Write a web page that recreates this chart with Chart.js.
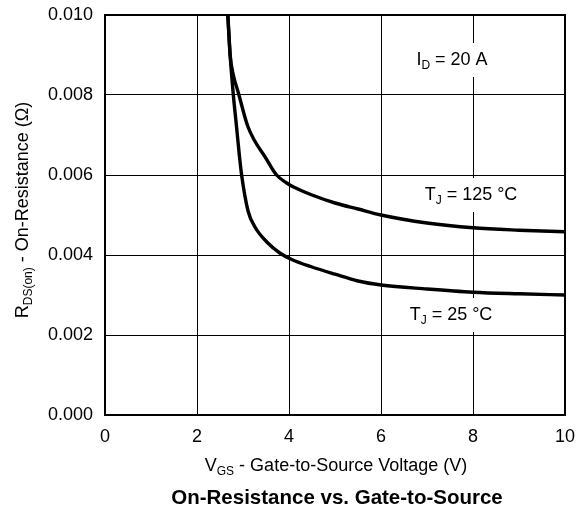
<!DOCTYPE html>
<html>
<head>
<meta charset="utf-8">
<script src="https://cdn.jsdelivr.net/npm/chart.js@4.4.0/dist/chart.umd.min.js"></script>
<style>
  html, body { margin: 0; padding: 0; background: #fff; }
  #wrap { width: 587px; height: 521px; }
</style>
</head>
<body>
<div id="wrap"><canvas id="chart" width="587" height="521"></canvas></div>
<script>
// V_GS (V) and R_DS(on) (ohm)
const vgs25 = [2.67, 2.72, 2.79, 2.86, 2.92, 2.97, 3.11, 3.26, 3.54, 3.80, 4.07, 4.50, 5.00, 5.50, 6.00, 7.00, 8.00, 9.00, 10.0];
const rds25 = [0.0100, 0.0090, 0.0080, 0.0072, 0.0065, 0.0060, 0.0051, 0.0047, 0.0043, 0.00405, 0.00388, 0.0037, 0.00352, 0.00335, 0.00325, 0.00315, 0.00307, 0.00303, 0.0030];
const vgs125 = [2.67, 2.72, 2.79, 2.90, 3.11, 3.52, 3.73, 3.95, 4.10, 4.50, 5.00, 5.50, 6.00, 7.00, 8.00, 9.00, 10.0];
const rds125 = [0.0100, 0.0090, 0.0085, 0.00805, 0.0072, 0.00638, 0.0060, 0.0058, 0.0057, 0.0055, 0.0053, 0.00515, 0.0050, 0.0048, 0.00468, 0.00462, 0.00458];

const xTicks = [0, 2, 4, 6, 8, 10];
const yTicks = [0, 0.002, 0.004, 0.006, 0.008, 0.010];

const FONT = '"Liberation Sans", Arial, Helvetica, sans-serif';
const FS = 18;

const toPts = (xs, ys) => xs.map((x, i) => ({ x, y: ys[i] }));

// text made of [text, isSub] parts
function partsWidth(ctx, parts, size) {
  let w = 0;
  parts.forEach(p => {
    ctx.font = (p[1] ? Math.round(size * 0.66) : size) + 'px ' + FONT;
    w += ctx.measureText(p[0]).width;
  });
  return w;
}
function drawParts(ctx, parts, x, y, size) {
  const w = partsWidth(ctx, parts, size);
  let cx = x - w / 2;
  ctx.textBaseline = 'middle';
  ctx.textAlign = 'left';
  parts.forEach(p => {
    ctx.font = (p[1] ? Math.round(size * 0.66) : size) + 'px ' + FONT;
    ctx.fillText(p[0], cx, p[1] ? y + size * 0.3 : y);
    cx += ctx.measureText(p[0]).width;
  });
}

const annotations = [
  { parts: [['I', 0], ['D', 1], [' = 20 A', 0]], x: 452, y: 60 },
  { parts: [['T', 0], ['J', 1], [' = 125 °C', 0]], x: 471, y: 195 },
  { parts: [['T', 0], ['J', 1], [' = 25 °C', 0]], x: 451, y: 315 }
];

const decor = {
  id: 'decor',
  afterDatasetsDraw(chart) {
    const ctx = chart.ctx;
    const a = chart.chartArea;
    ctx.save();
    // labels sit on a white box that breaks the grid
    annotations.forEach(t => {
      const w = partsWidth(ctx, t.parts, FS);
      ctx.fillStyle = '#fff';
      ctx.fillRect(t.x - w / 2 - 3, t.y - 17, w + 6, 34);
      ctx.fillStyle = '#000';
      drawParts(ctx, t.parts, t.x, t.y, FS);
    });
    // frame
    ctx.strokeStyle = '#000';
    ctx.lineWidth = 2;
    ctx.strokeRect(a.left, a.top, a.right - a.left, a.bottom - a.top);
    ctx.restore();
  },
  afterDraw(chart) {
    const ctx = chart.ctx;
    ctx.save();
    ctx.fillStyle = '#000';
    drawParts(ctx, [['V', 0], ['GS', 1], [' - Gate-to-Source Voltage (V)', 0]], 336, 466, FS);
    ctx.translate(23, 210);
    ctx.rotate(-Math.PI / 2);
    drawParts(ctx, [['R', 0], ['DS(on)', 1], [' - On-Resistance (\u03A9)', 0]], 0, 0, FS);
    ctx.restore();
    ctx.save();
    ctx.fillStyle = '#000';
    ctx.font = 'bold 20.5px ' + FONT;
    ctx.textAlign = 'center';
    ctx.textBaseline = 'middle';
    ctx.fillText('On-Resistance vs. Gate-to-Source', 337, 498);
    ctx.restore();
  }
};

const lineStyle = { borderColor: '#000', borderWidth: 3.4, pointRadius: 0, showLine: true, cubicInterpolationMode: 'monotone', fill: false };

new Chart(document.getElementById('chart').getContext('2d'), {
  type: 'scatter',
  data: {
    datasets: [
      Object.assign({ label: 'TJ = 25 °C', data: toPts(vgs25, rds25) }, lineStyle),
      Object.assign({ label: 'TJ = 125 °C', data: toPts(vgs125, rds125) }, lineStyle)
    ]
  },
  options: {
    responsive: false,
    animation: false,
    devicePixelRatio: 1,
    layout: { padding: { left: 0, right: 22, top: 15, bottom: 0 } },
    scales: {
      x: {
        type: 'linear', min: 0, max: 10,
        afterBuildTicks: s => { s.ticks = xTicks.map(v => ({ value: v })); },
        afterFit: s => { s.height = 106; },
        grid: { color: '#000', lineWidth: 1, drawTicks: false },
        border: { display: false },
        ticks: { color: '#000', padding: 11, font: { family: FONT, size: FS } }
      },
      y: {
        type: 'linear', min: 0, max: 0.010,
        afterBuildTicks: s => { s.ticks = yTicks.map(v => ({ value: v })); },
        afterFit: s => { s.width = 105; s.paddingTop = 0; s.paddingBottom = 0; },
        grid: { color: '#000', lineWidth: 1, drawTicks: false },
        border: { display: false },
        ticks: { color: '#000', padding: 12, font: { family: FONT, size: FS }, callback: v => v.toFixed(3) }
      }
    },
    plugins: { legend: { display: false }, tooltip: { enabled: false } }
  },
  plugins: [decor]
});
</script>
</body>
</html>
